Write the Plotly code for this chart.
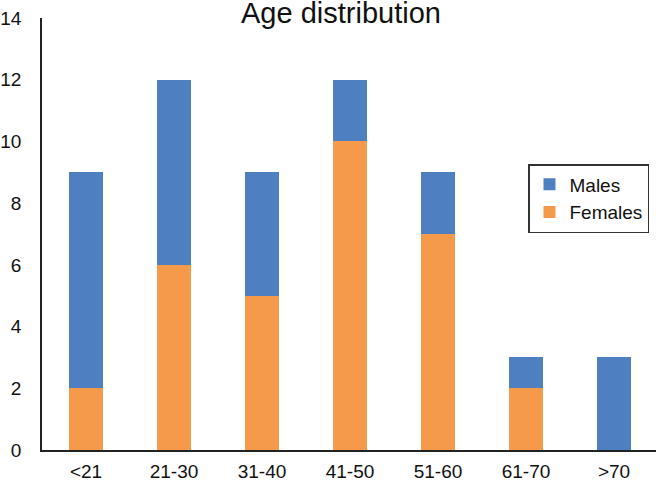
import plotly.graph_objects as go

categories = ["<21", "21-30", "31-40", "41-50", "51-60", "61-70", ">70"]
females = [2, 6, 5, 10, 7, 2, 0]
males = [7, 6, 4, 2, 2, 1, 3]
y_ticks = [0, 2, 4, 6, 8, 10, 12, 14]

FONT = "Liberation Sans, Arial, sans-serif"

fig = go.Figure()
fig.add_trace(go.Bar(x=categories, y=females, name="Females", marker=dict(color="#F5994B", line=dict(width=0))))
fig.add_trace(go.Bar(x=categories, y=males, name="Males", marker=dict(color="#4E7FC0", line=dict(width=0))))

fig.update_layout(
    width=656, height=488,
    barmode="stack",
    bargap=0.614,
    margin=dict(l=42, r=0, t=18, b=38, autoexpand=False),
    paper_bgcolor="white", plot_bgcolor="white",
    font=dict(family=FONT, size=19, color="#111111"),
    showlegend=True,
    legend=dict(
        x=(528 - 42) / 614, y=0.662, xanchor="left", yanchor="top",
        bordercolor="#333333", borderwidth=1.5,
        font=dict(size=19, color="#111111"),
        traceorder="reversed",
        bgcolor="white",
        itemwidth=30,
        tracegroupgap=0,
    ),
    annotations=[dict(
        text="Age distribution", xref="paper", yref="paper",
        x=(341 - 42) / 614, y=1.011, xanchor="center", yanchor="middle",
        showarrow=False, font=dict(size=29, color="#111111", family=FONT),
    )],
)
fig.update_xaxes(
    range=[-0.5, 6.477], showgrid=False, showline=True, linecolor="#222222", linewidth=1.5,
    ticks="", tickfont=dict(size=19), ticklabelstandoff=3, automargin=False,
)
fig.update_yaxes(
    range=[0, 14], tickvals=y_ticks, showgrid=False, showline=True, linecolor="#222222", linewidth=1.5,
    ticks="", tickfont=dict(size=19), ticklabelstandoff=15, zeroline=False, automargin=False,
)

fig.write_html(
    "out.html",
    config={"displayModeBar": False},
    post_script="document.body.style.margin='0';document.body.style.overflow='hidden';",
)
